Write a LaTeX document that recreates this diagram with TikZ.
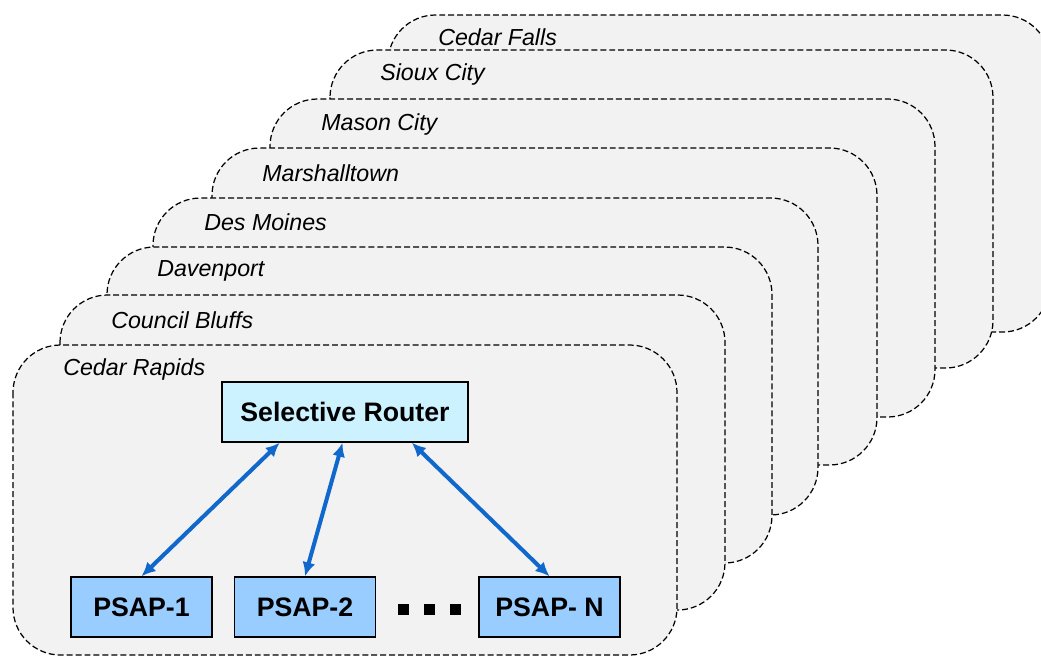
\documentclass[tikz,border=0pt]{standalone}
\usepackage{fontspec}
\setmainfont{Liberation Sans}
\usetikzlibrary{arrows.meta,calc}

\definecolor{areagray}{HTML}{F2F2F2}
\definecolor{routercyan}{HTML}{CCF2FF}
\definecolor{psapblue}{HTML}{99CCFF}
\definecolor{linkblue}{RGB}{16,104,204}

\begin{document}
\begin{tikzpicture}[x=0.02cm, y=-0.02cm,
    area/.style = {draw = black, fill = areagray, line width = 0.7pt,
                   dash pattern = on 3.4pt off 1.7pt, rounded corners = 0.95cm},
    arealabel/.style = {anchor = west, inner sep = 0pt,
                        font = \fontsize{13.2}{15}\selectfont\itshape},
    router/.style = {rectangle, draw = black, line width = 0.8pt, fill = routercyan,
                     minimum width = 4.92cm, minimum height = 1.2cm,
                     font = \fontsize{15.2}{17}\selectfont\bfseries},
    psap/.style = {rectangle, draw = black, line width = 0.8pt, fill = psapblue,
                   minimum width = 2.82cm, minimum height = 1.2cm,
                   font = \fontsize{15.2}{17}\selectfont\bfseries},
    dot/.style = {rectangle, fill = black, inner sep = 0pt, minimum size = 0.22cm},
    link/.style = {{Latex[length=2.8mm, width=2.6mm]}-{Latex[length=2.8mm, width=2.6mm]},
                   draw = linkblue, line width = 2.3pt}]
    \useasboundingbox (0,0) rectangle (1041,657);
    \clip (0,0) rectangle (1041,657);

    % service areas, back to front
    \draw[area] (388,15) rectangle (1050,332);
    \node[arealabel] (cedarfalls) at (438,37) {Cedar Falls};
    \draw[area] (330,50) rectangle (993,368);
    \node[arealabel] (siouxcity) at (380,74) {Sioux City};
    \draw[area] (270,99) rectangle (935,417);
    \node[arealabel] (masoncity) at (321,124) {Mason City};
    \draw[area] (212,148) rectangle (877,465);
    \node[arealabel] (marshalltown) at (262,173) {Marshalltown};
    \draw[area] (153,198) rectangle (818,515);
    \node[arealabel] (desmoines) at (204,222) {Des Moines};
    \draw[area] (107,247) rectangle (772,563);
    \node[arealabel] (davenport) at (157,271) {Davenport};
    \draw[area] (60,295) rectangle (725,610);
    \node[arealabel] (councilbluffs) at (111,320) {Council Bluffs};
    \draw[area] (13,345) rectangle (677,655);
    \node[arealabel] (cedarrapids) at (63,369) {Cedar Rapids};

    % router and answering points
    \node[router] (sr) at (345,412) {Selective Router};
    \node[psap] (psap1) at (141.5,607) {PSAP-1};
    \node[psap] (psap2) at (305,607) {PSAP-2};
    \node[psap] (psapn) at (549.5,607) {PSAP- N};
    \node[dot] (dot1) at (403,609) {};
    \node[dot] (dot2) at (429,609) {};
    \node[dot] (dot3) at (455,609) {};

    \draw[link] ($(sr.south west)!0.236!(sr.south east)$) -- (psap1.north);
    \draw[link] ($(sr.south west)!0.49!(sr.south east)$) -- (psap2.north);
    \draw[link] ($(sr.south west)!0.77!(sr.south east)$) -- (psapn.north);
\end{tikzpicture}
\end{document}
